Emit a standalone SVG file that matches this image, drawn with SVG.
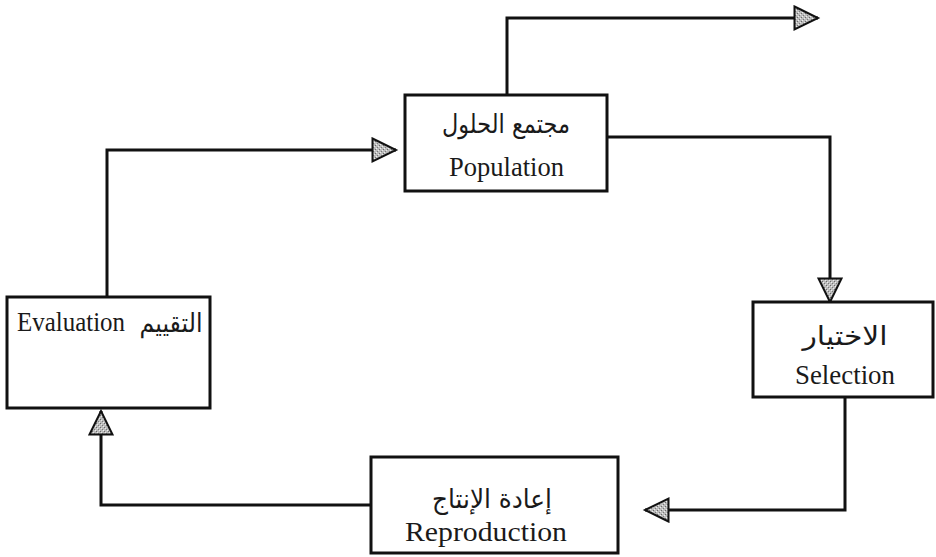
<svg xmlns="http://www.w3.org/2000/svg" width="936" height="557" viewBox="0 0 936 557">
  <style>
    .box { fill: #ffffff; stroke: #111111; stroke-width: 3; }
    .link { fill: none; stroke: #111111; stroke-width: 3; stroke-linejoin: miter; }
    .en { font-family: "Liberation Serif", "Times New Roman", serif; font-size: 27px; fill: #1a1a1a; }
    .ar { font-family: "DejaVu Sans", "Noto Sans", sans-serif; font-size: 26px; fill: #1a1a1a; }
  </style>
  <defs>
    <!-- speckled grey fill of the arrowheads -->
    <pattern id="stipple" width="4" height="4" patternUnits="userSpaceOnUse">
      <rect width="4" height="4" fill="#bcbcbc"/>
      <rect x="0" y="0" width="1" height="1" fill="#6a6a6a"/>
      <rect x="2" y="2" width="1" height="1" fill="#7a7a7a"/>
      <rect x="3" y="1" width="1" height="1" fill="#eaeaea"/>
      <rect x="1" y="3" width="1" height="1" fill="#f0f0f0"/>
    </pattern>
    <marker id="head" markerUnits="userSpaceOnUse" markerWidth="28" markerHeight="28" refX="25" refY="13" orient="auto">
      <path d="M1.5,1.5 L25,13 L1.5,24.5 Z" fill="url(#stipple)" stroke="#111111" stroke-width="2" stroke-linejoin="miter"/>
    </marker>
  </defs>

  <!-- connectors -->
  <g id="connectors">
    <path class="link" d="M507,95 L507,18 L818,18" marker-end="url(#head)"/>
    <path class="link" d="M607,137 L830,137 L830,302" marker-end="url(#head)"/>
    <path class="link" d="M845,397 L845,510 L645,510" marker-end="url(#head)"/>
    <path class="link" d="M371,505 L101,505 L101,411" marker-end="url(#head)"/>
    <path class="link" d="M107,297 L107,150 L396,150" marker-end="url(#head)"/>
  </g>

  <!-- population -->
  <g id="population">
    <rect class="box" x="405" y="95" width="202" height="96"/>
    <text class="ar" x="506" y="133" text-anchor="middle" textLength="128" lengthAdjust="spacingAndGlyphs">مجتمع الحلول</text>
    <text class="en" x="449" y="176" textLength="115" lengthAdjust="spacingAndGlyphs">Population</text>
  </g>

  <!-- selection -->
  <g id="selection">
    <rect class="box" x="753" y="302" width="180" height="95"/>
    <text class="ar" x="845" y="345" text-anchor="middle" textLength="85" lengthAdjust="spacingAndGlyphs">الاختيار</text>
    <text class="en" x="795" y="384" textLength="100" lengthAdjust="spacingAndGlyphs">Selection</text>
  </g>

  <!-- reproduction -->
  <g id="reproduction">
    <rect class="box" x="371" y="457" width="247" height="96"/>
    <text class="ar" x="492" y="508" text-anchor="middle" textLength="120" lengthAdjust="spacingAndGlyphs">إعادة الإنتاج</text>
    <text class="en" x="405" y="541" textLength="162" lengthAdjust="spacingAndGlyphs">Reproduction</text>
  </g>

  <!-- evaluation -->
  <g id="evaluation">
    <rect class="box" x="7" y="297" width="203" height="111"/>
    <text class="en" x="17" y="331" textLength="108" lengthAdjust="spacingAndGlyphs">Evaluation</text>
    <text class="ar" x="171" y="332" text-anchor="middle" textLength="63" lengthAdjust="spacingAndGlyphs">التقييم</text>
  </g>
</svg>
